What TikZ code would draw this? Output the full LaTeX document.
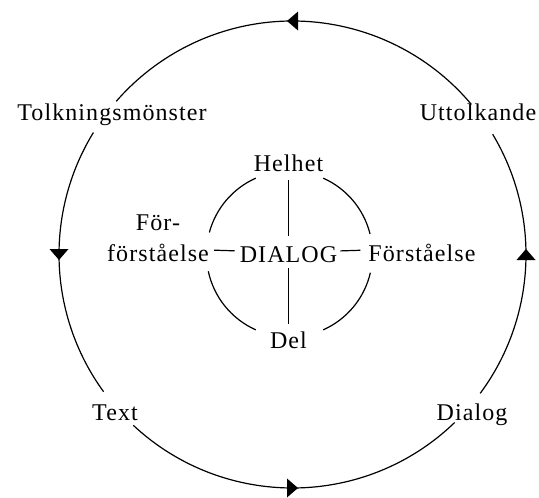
\documentclass[tikz,border=0pt]{standalone}
\usepackage{fontspec}
\setmainfont{Liberation Serif}[LetterSpace=4.5]
\begin{document}
\begin{tikzpicture}[x=1pt,y=1pt,
  lbl/.style={anchor=base, inner sep=0pt, font=\fontsize{24}{28}\selectfont},
  ring/.style={line width=1.2pt},
  link/.style={line width=1.2pt},
  headtri/.pic={\fill (-5.5,-9.5) -- (5.5,0) -- (-5.5,9.5) -- cycle;}]
\useasboundingbox (0,0) rectangle (539,-498);
\fill[white] (0,0) rectangle (539,-498);

% outer cycle
\coordinate (c) at (292.5,-254.5);
\def\R{233.5}
\draw[ring] (c) ++(40:\R)    arc[start angle=40,    end angle=139, radius=\R];
\draw[ring] (c) ++(148.5:\R) arc[start angle=148.5, end angle=216, radius=\R];
\draw[ring] (c) ++(227:\R)   arc[start angle=227,   end angle=314, radius=\R];
\draw[ring] (c) ++(323.5:\R) arc[start angle=323.5, end angle=391, radius=\R];
\path (c) ++(0,\R)  pic[rotate=180] {headtri};
\path (c) ++(-\R,0) pic[rotate=-90] {headtri};
\path (c) ++(0,-\R) pic {headtri};
\path (c) ++(\R,0)  pic[rotate=90]  {headtri};

\node[lbl] (tolk) at (112,-120) {Tolkningsmönster};
\node[lbl] (utt)  at (478,-120) {Uttolkande};
\node[lbl] (txt)  at (115,-420) {Text};
\node[lbl] (dia)  at (472,-420) {Dialog};

% inner circle
\coordinate (ci) at (289.5,-254);
\def\r{83}
\draw[ring] (ci) ++(14:\r)  arc[start angle=14,  end angle=66,  radius=\r];
\draw[ring] (ci) ++(114:\r) arc[start angle=114, end angle=165, radius=\r];
\draw[ring] (ci) ++(192:\r) arc[start angle=192, end angle=246, radius=\r];
\draw[ring] (ci) ++(294:\r) arc[start angle=294, end angle=347, radius=\r];

\node[lbl] (hel)   at (288.5,-171) {Helhet};
\node[lbl] (dlg)   at (288.5,-262) {DIALOG};
\node[lbl] (del)   at (288.5,-348) {Del};
\node[lbl] (forA)  at (158,-230) {För-};
\node[lbl] (forB)  at (158,-261) {förståelse};
\node[lbl] (forst) at (422,-261) {Förståelse};

\draw[link, shorten <=9pt, shorten >=10pt] (hel) -- (dlg);
\draw[link, shorten <=6pt, shorten >=7.5pt] (dlg) -- (del);
\draw[link, shorten <=5pt, shorten >=5pt] ([yshift=11pt]forB.base east) -- ([yshift=11pt]dlg.base west);
\draw[link, shorten <=3pt, shorten >=8pt] ([yshift=11pt]dlg.base east) -- ([yshift=11pt]forst.base west);
\end{tikzpicture}
\end{document}
